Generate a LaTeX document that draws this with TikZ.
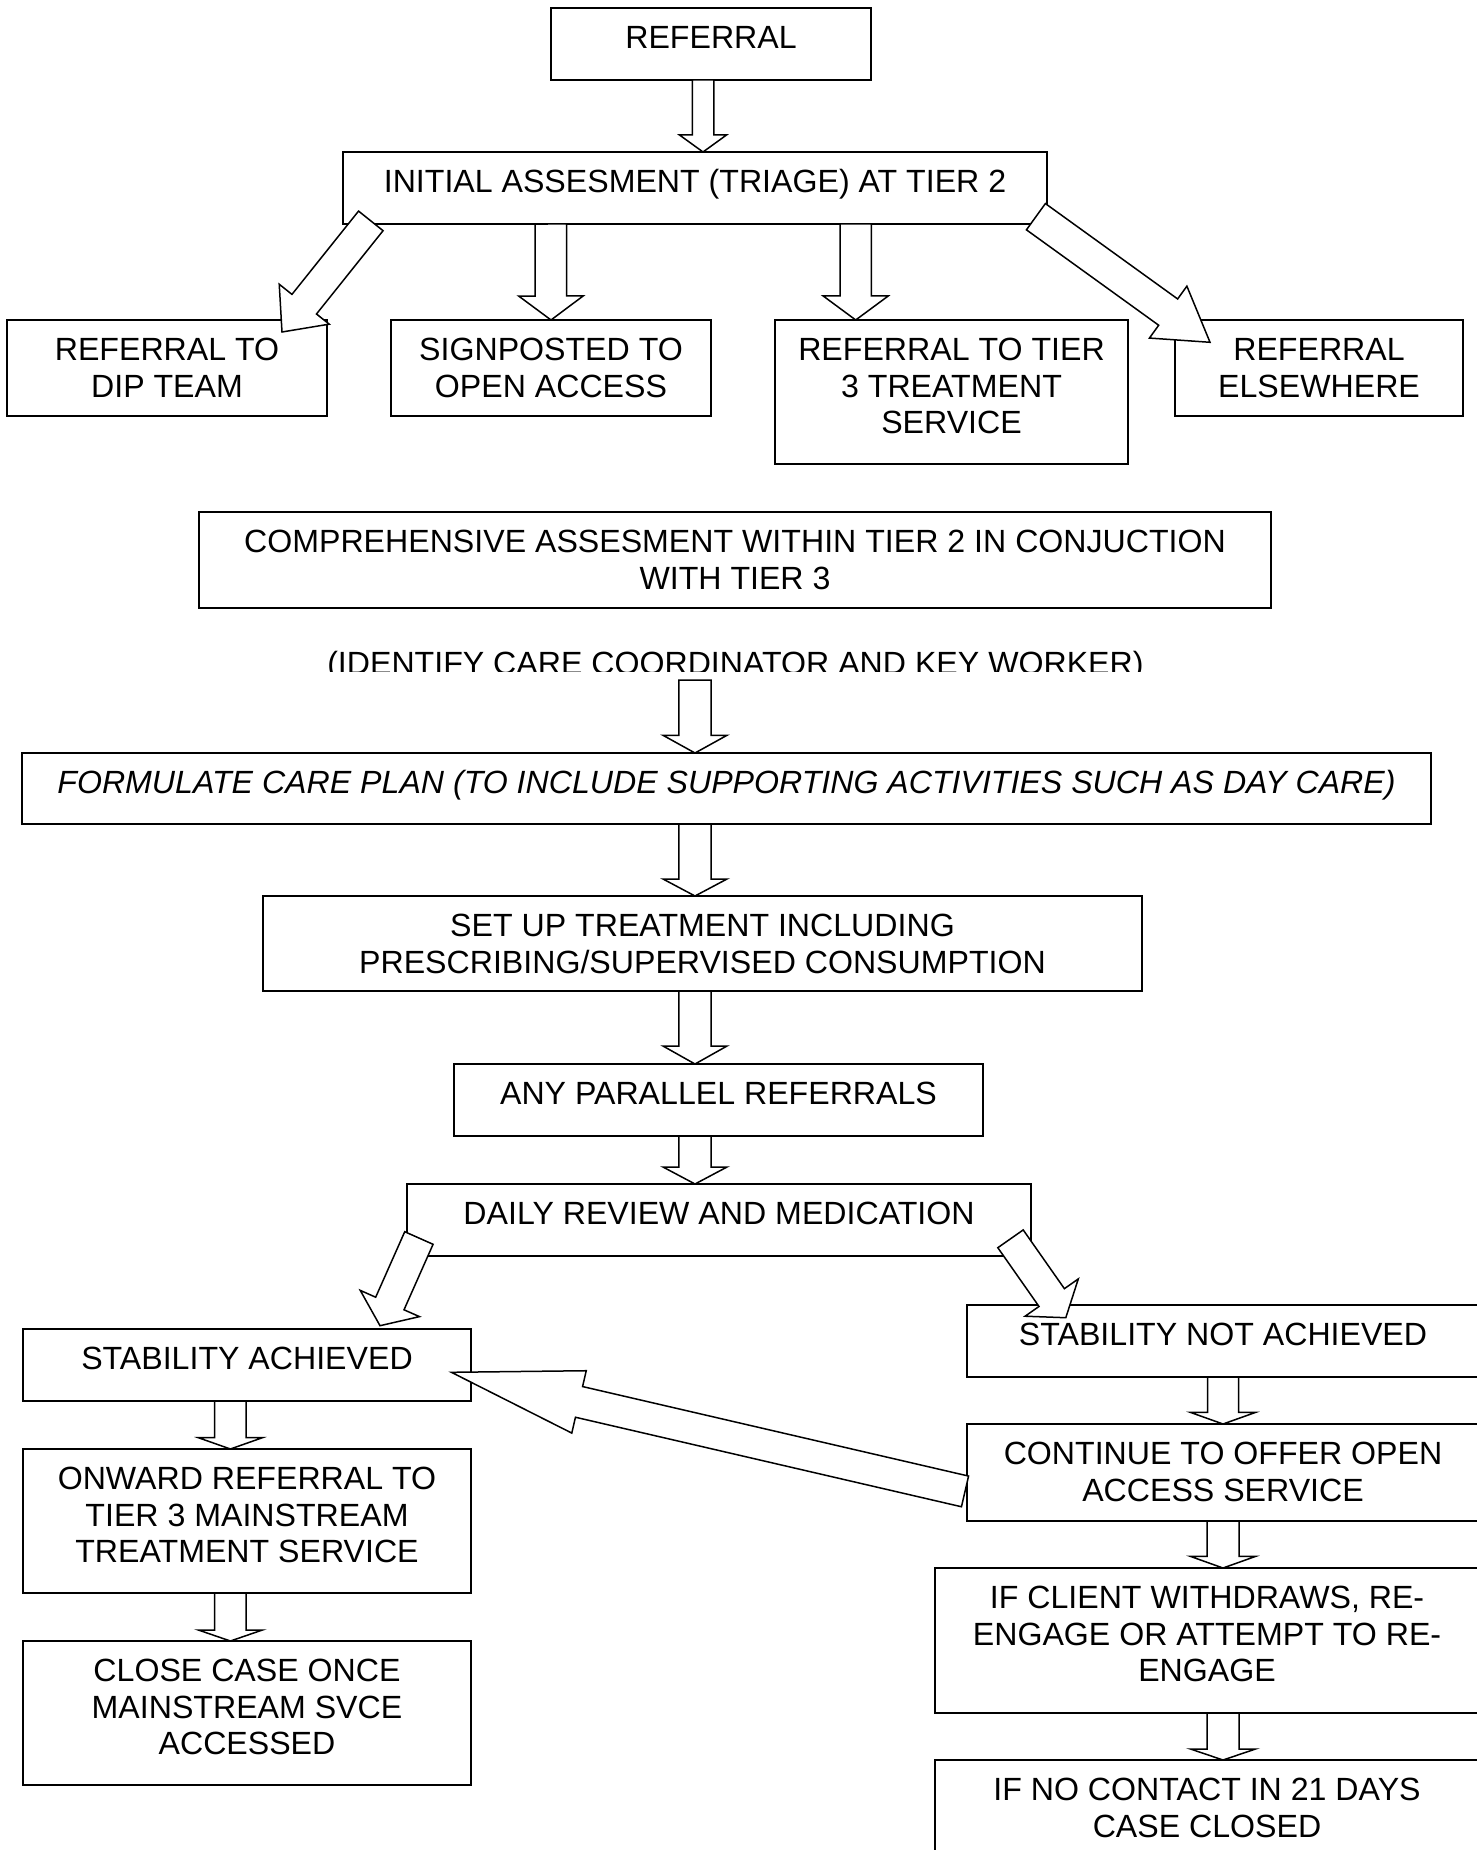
\documentclass[tikz,border=0pt]{standalone}
\usepackage{fontspec}
\setmainfont{Liberation Sans}
\usetikzlibrary{calc}
\newcommand\fs{\fontsize{12.85pt}{14.64pt}\selectfont}
\tikzset{
 box/.style={draw, line width=0.75pt, inner sep=0pt, outer sep=0pt},
 txt/.style={anchor=north, inner sep=0pt, align=center, font=\fs},
 arr/.style={draw, fill=white, line width=0.6pt, line join=miter, miter limit=10},
}
% name, x1, y1, x2, y2 (pixels)
\newcommand\mkbox[5]{%
  \pgfmathsetlengthmacro\bxw{(#4-#2)*0.4pt}%
  \pgfmathsetlengthmacro\bxh{(#5-#3)*0.4pt}%
  \node[box, minimum width=\bxw, minimum height=\bxh] (#1) at ({(#2+#4)/2},{(#3+#5)/2}) {};}
% tail, tip, shaft width, head width, head length (pixels)
\newcommand\blockarr[5]{%
  \pgfmathsetlengthmacro\baW{#3*0.2pt}%
  \pgfmathsetlengthmacro\baH{#4*0.2pt}%
  \pgfmathsetlengthmacro\baL{#5*0.4pt}%
  \coordinate (ba) at (#1);
  \coordinate (bt) at (#2);
  \coordinate (bh) at ($(bt)!\baL!(ba)$);
  \draw[arr] ($(ba)!\baW!90:(bt)$) -- ($(bh)!\baW!90:(bt)$) -- ($(bh)!\baH!90:(bt)$) -- (bt)
    -- ($(bh)!\baH!-90:(bt)$) -- ($(bh)!\baW!-90:(bt)$) -- ($(ba)!\baW!-90:(bt)$) -- cycle;}
\begin{document}
\begin{tikzpicture}[x=0.4pt,y=-0.4pt]
\clip (0,0) rectangle (1477,1850);
\fill[white] (0,0) rectangle (1477,1850);
% boxes
\mkbox{bref}{551}{8}{871}{80}
\mkbox{binit}{343}{152}{1047}{224}
\mkbox{bdip}{7}{320}{327}{416}
\mkbox{bsign}{391}{320}{711}{416}
\mkbox{btier}{775}{320}{1128}{464}
\mkbox{belse}{1175}{320}{1463}{416}
\mkbox{bcomp}{199}{512}{1271}{608}
\mkbox{bform}{22}{753}{1431}{824}
\mkbox{bsetup}{263}{896}{1142}{991}
\mkbox{bpar}{454}{1064}{983}{1136}
\mkbox{bdaily}{407}{1184}{1031}{1256}
\mkbox{bstab}{23}{1329}{471}{1401}
\mkbox{bonw}{23}{1449}{471}{1593}
\mkbox{bclose}{23}{1641}{471}{1785}
\mkbox{bnot}{967}{1305}{1479}{1377}
\mkbox{bcont}{967}{1424}{1479}{1521}
\mkbox{bifc}{935}{1568}{1479}{1713}
\mkbox{bnoc}{935}{1760}{1479}{1900}
% texts
\node[txt] (tref) at ([yshift=-5.76pt]bref.north) {\strut REFERRAL};
\node[txt] (tinit) at ([yshift=-5.76pt]binit.north) {\strut INITIAL ASSESMENT (TRIAGE) AT TIER 2};
\node[txt] (tdip) at ([yshift=-5.76pt]bdip.north) {\strut REFERRAL TO\\DIP TEAM};
\node[txt] (tsign) at ([yshift=-5.76pt]bsign.north) {\strut SIGNPOSTED TO\\OPEN ACCESS};
\node[txt] (ttier) at ([yshift=-5.76pt]btier.north) {\strut REFERRAL TO TIER\\3 TREATMENT\\SERVICE};
\node[txt] (telse) at ([yshift=-5.76pt]belse.north) {\strut REFERRAL\\ELSEWHERE};
\node[txt] (tcomp) at ([yshift=-5.76pt]bcomp.north) {\strut COMPREHENSIVE ASSESMENT WITHIN TIER 2 IN CONJUCTION\\WITH TIER 3};
\begin{scope}
\clip (300,630) rectangle (1180,671);
\node[inner sep=0pt, anchor=base, font=\fs] (tident) at (735.4,674) {(IDENTIFY CARE COORDINATOR AND KEY WORKER)};
\end{scope}
\node[txt, font=\fs\itshape] (tform) at ([yshift=-5.76pt]bform.north) {\strut FORMULATE CARE PLAN (TO INCLUDE SUPPORTING ACTIVITIES SUCH AS DAY CARE)};
\node[txt] (tsetup) at ([yshift=-5.76pt]bsetup.north) {\strut SET UP TREATMENT INCLUDING\\PRESCRIBING/SUPERVISED CONSUMPTION};
\node[txt] (tpar) at ([yshift=-5.76pt]bpar.north) {\strut ANY PARALLEL REFERRALS};
\node[txt] (tdaily) at ([yshift=-5.76pt]bdaily.north) {\strut DAILY REVIEW AND MEDICATION};
\node[txt] (tstab) at ([yshift=-5.76pt]bstab.north) {\strut STABILITY ACHIEVED};
\node[txt] (tonw) at ([yshift=-5.76pt]bonw.north) {\strut ONWARD REFERRAL TO\\TIER 3 MAINSTREAM\\TREATMENT SERVICE};
\node[txt] (tclose) at ([yshift=-5.76pt]bclose.north) {\strut CLOSE CASE ONCE\\MAINSTREAM SVCE\\ACCESSED};
\node[txt] (tnot) at ([yshift=-5.76pt]bnot.north) {\strut STABILITY NOT ACHIEVED};
\node[txt] (tcont) at ([yshift=-5.76pt]bcont.north) {\strut CONTINUE TO OFFER OPEN\\ACCESS SERVICE};
\node[txt] (tifc) at ([yshift=-5.76pt]bifc.north) {\strut IF CLIENT WITHDRAWS, RE-\\ENGAGE OR ATTEMPT TO RE-\\ENGAGE};
\node[txt] (tnoc) at ([yshift=-5.76pt]bnoc.north) {\strut IF NO CONTACT IN 21 DAYS\\CASE CLOSED};
% arrows
\blockarr{$(bref.south)+(-8,0)$}{$(binit.north)+(8,0)$}{21.5}{47}{17}
\blockarr{$(binit.south west)+(27.8,-3.1)$}{$(bdip.north east)+(-45,12)$}{31.4}{64}{35.6}
\blockarr{$(binit.south west)+(207.8,0)$}{$(bsign.north)$}{31.5}{64.5}{24}
\blockarr{$(binit.south west)+(512.7,0)$}{$(btier.north west)+(80.7,0)$}{31.4}{65}{24}
\blockarr{$(binit.south east)+(-11.1,-7.3)$}{$(belse.north west)+(35,22.3)$}{32.4}{64}{51.6}
\coordinate (idb) at (695,680);
\blockarr{idb}{$(bform.north west)+(673,0)$}{32.4}{64}{17.7}
\blockarr{$(bform.south west)+(673,0)$}{$(bsetup.north west)+(432,0)$}{32.4}{64}{17}
\blockarr{$(bsetup.south west)+(432,0)$}{$(bpar.north west)+(241,0)$}{32.4}{64}{18}
\blockarr{$(bpar.south west)+(241,0)$}{$(bdaily.north west)+(288,0)$}{32.4}{64}{17}
\blockarr{$(bdaily.south west)+(11.9,-18)$}{$(bstab.north east)+(-91,-3.3)$}{31}{64.8}{24.3}
\blockarr{$(bdaily.south east)+(-20.5,-17.2)$}{$(bnot.north west)+(98.8,12.7)$}{31}{65}{24.6}
\blockarr{$(bstab.south west)+(207.4,0)$}{$(bonw.north west)+(207.4,0)$}{31.6}{64}{11.3}
\blockarr{$(bonw.south west)+(207.4,0)$}{$(bclose.north west)+(207.4,0)$}{31.6}{64}{11}
\blockarr{$(bnot.south)$}{$(bcont.north)$}{31}{65}{11.6}
\blockarr{$(bcont.south)$}{$(bifc.north west)+(288,0)$}{32}{65}{11.6}
\blockarr{$(bifc.south west)+(288,0)$}{$(bnoc.north west)+(288,0)$}{32}{65}{11}
\blockarr{$(bcont.north west)+(-2,67.4)$}{$(bstab.north east)+(-19.6,43.3)$}{31.5}{64}{131}
\end{tikzpicture}
\end{document}
